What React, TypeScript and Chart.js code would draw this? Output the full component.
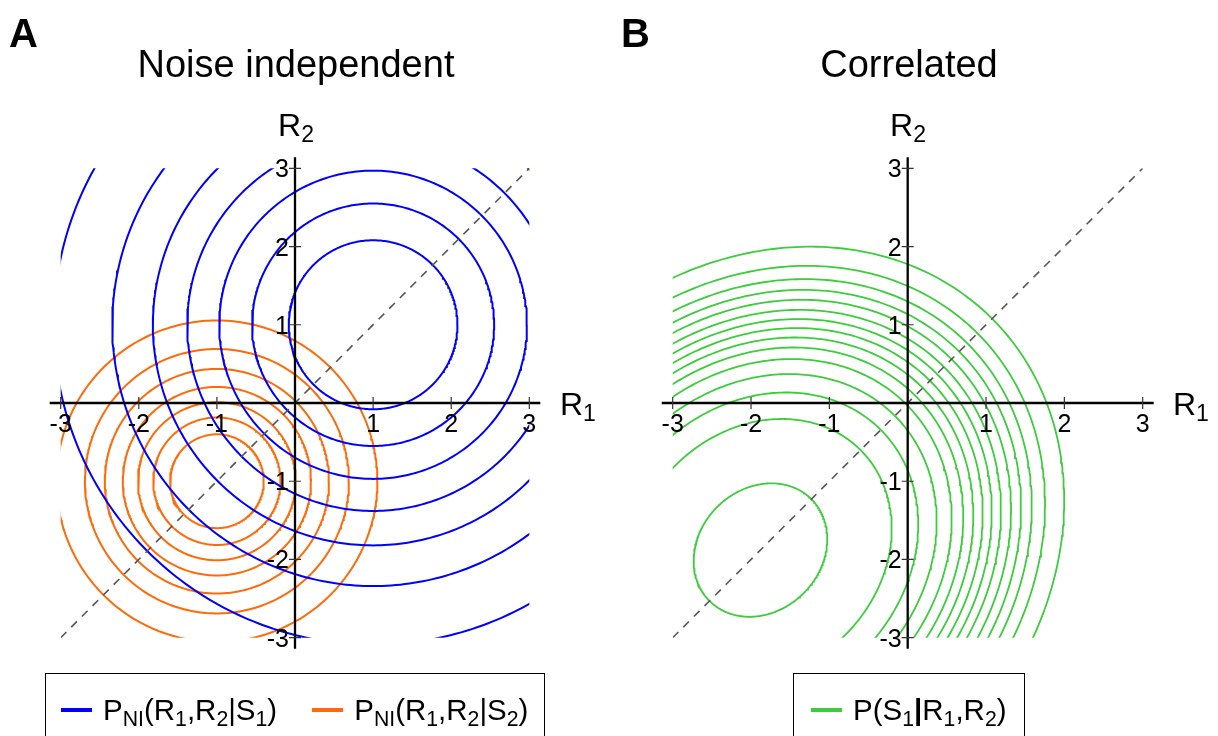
import React, { useEffect, useRef } from "react";
import { Chart, registerables } from "chart.js";

Chart.register(...registerables);

// ---------- data ----------
const axisMin = -3;
const axisMax = 3;
const xTickValues = [-3, -2, -1, 1, 2, 3];
const xTickLabels = ["-3", "-2", "-1", "1", "2", "3"];
const yTickValues = [3, 2, 1, -1, -2, -3];
const yTickLabels = ["3", "2", "1", "-1", "-2", "-3"];

// Panel A: P_NI(R1,R2|S1) contours (circles around S1 mean)
const s1Center = [1, 1];
const s1Radii = [1.08, 1.55, 1.97, 2.38, 2.82, 3.34, 4.09];
// Panel A: P_NI(R1,R2|S2) contours (circles around S2 mean)
const s2Center = [-1, -1];
const s2Radii = [0.6, 0.815, 1.01, 1.205, 1.435, 1.69, 2.055];

// Panel B: P(S1|R1,R2) contours (concentric tilted ellipses)
const postCenter = [-1.88, -1.88];
const postMajor = 0.92; // semi-axis along the diagonal, for level 1
const postMinor = 0.78; // semi-axis across the diagonal, for level 1
const postAngle = 45;
const postLevels = [1, 1.965, 2.362, 2.638, 2.863, 3.036, 3.186, 3.327, 3.462, 3.6, 3.751, 3.9, 4.061, 4.26, 4.547];

// diagonal R1 = R2
const diagX = [-3, 3];
const diagY = [-3, 3];

const titleA = "Noise independent";
const titleB = "Correlated";

const COLOR_S1 = "#0000ff";
const COLOR_S2 = "#ff6a0a";
const COLOR_POST = "#3ccc3c";
const FONT = '"Liberation Sans", Arial, Helvetica, sans-serif';

function ellipsePoints(cx: number, cy: number, ra: number, rb: number, angleDeg: number, steps = 360) {
  const t = (angleDeg * Math.PI) / 180;
  const c = Math.cos(t);
  const s = Math.sin(t);
  const pts: { x: number; y: number }[] = [];
  for (let i = 0; i <= steps; i++) {
    const a = (i / steps) * 2 * Math.PI;
    const u = ra * Math.cos(a);
    const v = rb * Math.sin(a);
    pts.push({ x: cx + u * c - v * s, y: cy + u * s + v * c });
  }
  return pts;
}

const contourStyle = (color: string, width = 2) => ({
  showLine: true,
  borderColor: color,
  backgroundColor: color,
  borderWidth: width,
  pointRadius: 0,
  pointHoverRadius: 0,
  fill: false,
  tension: 0,
  clip: 0,
});

const diagDataset = () => ({
  data: diagX.map((x, i) => ({ x, y: diagY[i] })),
  showLine: true,
  borderColor: "#555555",
  borderWidth: 1.6,
  borderDash: [8, 7],
  pointRadius: 0,
  pointHoverRadius: 0,
  fill: false,
  clip: 0,
});

const crossAxesPlugin = {
  id: "crossAxes",
  afterDatasetsDraw(chart: any) {
    const { ctx } = chart;
    const xs = chart.scales.x;
    const ys = chart.scales.y;
    const x0 = xs.getPixelForValue(0);
    const y0 = ys.getPixelForValue(0);
    const over = 11;
    ctx.save();
    // axis lines
    ctx.strokeStyle = "#000";
    ctx.lineWidth = 2.3;
    ctx.beginPath();
    ctx.moveTo(xs.getPixelForValue(axisMin) - over, y0);
    ctx.lineTo(xs.getPixelForValue(axisMax) + over, y0);
    ctx.moveTo(x0, ys.getPixelForValue(axisMax) - over);
    ctx.lineTo(x0, ys.getPixelForValue(axisMin) + over);
    ctx.stroke();
    // tick marks crossing the axes
    ctx.strokeStyle = "#333";
    ctx.lineWidth = 1.2;
    ctx.beginPath();
    xTickValues.forEach((v) => {
      const px = xs.getPixelForValue(v);
      ctx.moveTo(px, y0 - 6);
      ctx.lineTo(px, y0 + 6);
    });
    yTickValues.forEach((v) => {
      const py = ys.getPixelForValue(v);
      ctx.moveTo(x0 - 6, py);
      ctx.lineTo(x0 + 6, py);
    });
    ctx.stroke();
    // tick labels
    ctx.fillStyle = "#000";
    ctx.font = `25px ${FONT}`;
    ctx.textBaseline = "alphabetic";
    ctx.textAlign = "center";
    xTickValues.forEach((v, i) => {
      ctx.fillText(xTickLabels[i], xs.getPixelForValue(v), y0 + 29);
    });
    ctx.textAlign = "right";
    yTickValues.forEach((v, i) => {
      ctx.fillText(yTickLabels[i], x0 - 6, ys.getPixelForValue(v) + 9);
    });
    ctx.restore();
  },
};

function Panel({ datasets, left, width, padding }: any) {
  const ref = useRef<HTMLCanvasElement | null>(null);
  useEffect(() => {
    const chart = new Chart(ref.current as HTMLCanvasElement, {
      type: "scatter",
      data: { datasets },
      options: {
        animation: false,
        responsive: false,
        devicePixelRatio: 1,
        events: [],
        layout: { padding, autoPadding: false },
        plugins: { legend: { display: false }, tooltip: { enabled: false }, title: { display: false } },
        scales: {
          x: { type: "linear", min: axisMin, max: axisMax, display: false },
          y: { type: "linear", min: axisMin, max: axisMax, display: false },
        },
      } as any,
      plugins: [crossAxesPlugin],
    });
    return () => chart.destroy();
  }, []);
  return (
    <canvas
      ref={ref}
      width={width}
      height={736}
      style={{ position: "absolute", left, top: 0, width, height: 736 }}
    />
  );
}

const sub = (t: string) => (
  <sub style={{ fontSize: "0.72em", verticalAlign: "-0.28em", lineHeight: 0 }}>{t}</sub>
);

function LegendLine({ color }: { color: string }) {
  return <span style={{ display: "inline-block", width: 31, height: 4, background: color, marginRight: 11 }} />;
}

export default function App() {
  const datasetsA = [
    diagDataset(),
    ...s1Radii.map((r) => ({ data: ellipsePoints(s1Center[0], s1Center[1], r, r, 0), ...contourStyle(COLOR_S1, 2) })),
    ...s2Radii.map((r) => ({ data: ellipsePoints(s2Center[0], s2Center[1], r, r, 0), ...contourStyle(COLOR_S2, 2) })),
  ];
  const datasetsB = [
    diagDataset(),
    ...postLevels.map((k) => ({
      data: ellipsePoints(postCenter[0], postCenter[1], postMajor * k, postMinor * k, postAngle),
      ...contourStyle(COLOR_POST, 1.8),
    })),
  ];

  const text = (content: any, style: any) => (
    <div style={{ position: "absolute", whiteSpace: "nowrap", lineHeight: 1, ...style }}>{content}</div>
  );

  return (
    <div
      style={{
        position: "absolute",
        left: 0,
        top: 0,
        width: 1218,
        height: 736,
        overflow: "hidden",
        background: "#fff",
        fontFamily: FONT,
        color: "#000",
      }}
    >
      <Panel datasets={datasetsA} left={0} width={609} padding={{ left: 60.7, top: 168.3, right: 79.7, bottom: 98.3 }} />
      <Panel datasets={datasetsB} left={609} width={609} padding={{ left: 63.7, top: 168.3, right: 75.3, bottom: 98.3 }} />

      {text("A", { left: 9, top: 13, fontSize: 40, fontWeight: "bold" })}
      {text("B", { left: 621, top: 13, fontSize: 40, fontWeight: "bold" })}

      {text(titleA, { left: 96, width: 400, top: 45, fontSize: 38, textAlign: "center" })}
      {text(titleB, { left: 709, width: 400, top: 45, fontSize: 38, textAlign: "center" })}

      {text(<>R{sub("2")}</>, { left: 246, width: 100, top: 109, fontSize: 32, textAlign: "center" })}
      {text(<>R{sub("1")}</>, { left: 560, top: 388, fontSize: 32 })}
      {text(<>R{sub("2")}</>, { left: 858, width: 100, top: 109, fontSize: 32, textAlign: "center" })}
      {text(<>R{sub("1")}</>, { left: 1173, top: 388, fontSize: 32 })}

      <div
        style={{
          position: "absolute",
          left: 45,
          top: 673,
          width: 500,
          height: 90,
          border: "1.5px solid #000",
          boxSizing: "border-box",
        }}
      >
        <div style={{ position: "absolute", left: 15, top: 18, height: 36, display: "flex", alignItems: "center", fontSize: 29.5, whiteSpace: "nowrap" }}>
          <LegendLine color={COLOR_S1} />
          <span>P{sub("NI")}(R{sub("1")},R{sub("2")}|S{sub("1")})</span>
          <span style={{ display: "inline-block", width: 35 }} />
          <LegendLine color={COLOR_S2} />
          <span>P{sub("NI")}(R{sub("1")},R{sub("2")}|S{sub("2")})</span>
        </div>
      </div>

      <div
        style={{
          position: "absolute",
          left: 793,
          top: 673,
          width: 232,
          height: 90,
          border: "1.5px solid #000",
          boxSizing: "border-box",
        }}
      >
        <div style={{ position: "absolute", left: 17, top: 18, height: 36, display: "flex", alignItems: "center", fontSize: 29.5, whiteSpace: "nowrap" }}>
          <LegendLine color={COLOR_POST} />
          <span>P(S{sub("1")}<b>|</b>R{sub("1")},R{sub("2")})</span>
        </div>
      </div>
    </div>
  );
}
